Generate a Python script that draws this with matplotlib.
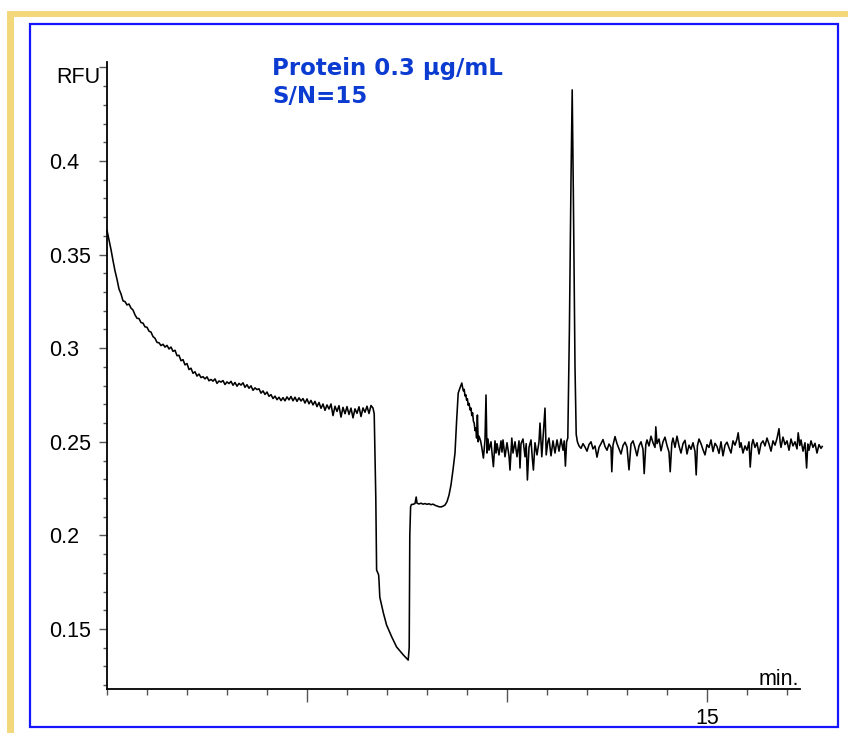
import numpy as np
import matplotlib
matplotlib.use("Agg")
import matplotlib.pyplot as plt
from matplotlib.patches import Rectangle
from matplotlib.ticker import FixedLocator, MultipleLocator

# ---------------- data ----------------
decay_t = [0.00, 0.05, 0.10, 0.15, 0.20, 0.25, 0.30, 0.35, 0.40, 0.45, 0.50, 0.55, 0.60, 0.65,
           0.70, 0.75, 0.80, 0.85, 0.90, 0.95, 1.00, 1.05, 1.10, 1.15, 1.20, 1.25, 1.30, 1.35,
           1.40, 1.45, 1.50, 1.55, 1.60, 1.65, 1.70, 1.75, 1.80, 1.85, 1.90, 1.95, 2.00, 2.05,
           2.10, 2.15, 2.20, 2.25, 2.30, 2.35, 2.40, 2.45, 2.50, 2.55, 2.60, 2.65, 2.70, 2.75,
           2.80, 2.85, 2.90, 2.95, 3.00, 3.05, 3.10, 3.15, 3.20, 3.25, 3.30, 3.35, 3.40, 3.45,
           3.50, 3.55, 3.60, 3.65, 3.70, 3.75, 3.80, 3.85, 3.90, 3.95, 4.00, 4.05, 4.10, 4.15,
           4.20, 4.25, 4.30, 4.35, 4.40, 4.45, 4.50, 4.55, 4.60, 4.65, 4.70, 4.75, 4.80, 4.85,
           4.90, 4.95, 5.00, 5.05, 5.10, 5.15, 5.20, 5.25, 5.30, 5.35, 5.40, 5.45, 5.50, 5.55,
           5.60, 5.65, 5.70, 5.75, 5.80, 5.85, 5.90, 5.95, 6.00, 6.05, 6.10, 6.15, 6.20, 6.25,
           6.30, 6.35, 6.40, 6.45, 6.50, 6.55, 6.60, 6.65]
decay_v = [0.3630, 0.3578, 0.3527, 0.3468, 0.3413, 0.3368, 0.3316, 0.3290, 0.3253, 0.3249,
           0.3231, 0.3236, 0.3214, 0.3204, 0.3178, 0.3160, 0.3158, 0.3137, 0.3134, 0.3114,
           0.3112, 0.3091, 0.3086, 0.3062, 0.3053, 0.3031, 0.3029, 0.3014, 0.3021, 0.3006,
           0.3015, 0.2996, 0.3006, 0.2983, 0.2989, 0.2960, 0.2962, 0.2933, 0.2939, 0.2911,
           0.2918, 0.2886, 0.2893, 0.2866, 0.2874, 0.2851, 0.2862, 0.2843, 0.2848, 0.2836,
           0.2847, 0.2826, 0.2833, 0.2824, 0.2836, 0.2812, 0.2825, 0.2819, 0.2827, 0.2806,
           0.2820, 0.2811, 0.2823, 0.2802, 0.2817, 0.2797, 0.2812, 0.2803, 0.2815, 0.2791,
           0.2805, 0.2786, 0.2799, 0.2775, 0.2788, 0.2779, 0.2783, 0.2760, 0.2772, 0.2753,
           0.2766, 0.2743, 0.2752, 0.2731, 0.2744, 0.2725, 0.2738, 0.2720, 0.2736, 0.2719,
           0.2740, 0.2724, 0.2742, 0.2719, 0.2738, 0.2716, 0.2735, 0.2718, 0.2731, 0.2707,
           0.2729, 0.2703, 0.2721, 0.2697, 0.2716, 0.2688, 0.2710, 0.2679, 0.2702, 0.2668,
           0.2697, 0.2675, 0.2702, 0.2640, 0.2690, 0.2662, 0.2693, 0.2632, 0.2684, 0.2650,
           0.2688, 0.2646, 0.2680, 0.2628, 0.2676, 0.2652, 0.2687, 0.2635, 0.2681, 0.2658,
           0.2690, 0.2651, 0.2694, 0.2680]

dip_t = [6.68, 6.72, 6.74, 6.79, 6.80, 6.82, 6.91, 6.99, 7.12, 7.24, 7.41, 7.53, 7.555, 7.57,
         7.59, 7.61, 7.65, 7.70, 7.73, 7.75, 7.80, 7.85, 7.90, 7.95, 8.00, 8.05, 8.10, 8.15,
         8.20, 8.25, 8.30, 8.35, 8.40, 8.45, 8.50, 8.55, 8.60, 8.65, 8.70, 8.74, 8.78, 8.82,
         8.87, 8.89, 8.91, 8.93, 8.95, 8.97, 8.99, 9.01, 9.03, 9.05, 9.08, 9.10, 9.12, 9.14,
         9.16, 9.18, 9.20, 9.22, 9.24, 9.26, 9.28, 9.30]
dip_v = [0.2650, 0.2200, 0.1815, 0.1790, 0.1760, 0.1670, 0.1585, 0.1521, 0.1457, 0.1404,
         0.1361, 0.1334, 0.1400, 0.2000, 0.2153, 0.2165, 0.2166, 0.2170, 0.2205, 0.2172,
         0.2168, 0.2172, 0.2167, 0.2170, 0.2166, 0.2169, 0.2164, 0.2167, 0.2161, 0.2157,
         0.2153, 0.2152, 0.2156, 0.2162, 0.2180, 0.2215, 0.2270, 0.2350, 0.2440, 0.2610,
         0.2760, 0.2785, 0.2814, 0.2790, 0.2772, 0.2780, 0.2745, 0.2752, 0.2722, 0.2730,
         0.2695, 0.2705, 0.2670, 0.2680, 0.2640, 0.2655, 0.2610, 0.2600, 0.2560, 0.2575,
         0.2520, 0.2643, 0.2500, 0.2530]

mid_t = [9.34, 9.37, 9.41, 9.45, 9.475, 9.50, 9.525, 9.55, 9.60, 9.63, 9.66, 9.70, 9.725,
         9.75, 9.80, 9.85, 9.875, 9.90, 9.95, 10.00, 10.05, 10.075, 10.12, 10.15, 10.20,
         10.25, 10.30, 10.325, 10.35, 10.40, 10.45, 10.48, 10.51, 10.55, 10.60, 10.63, 10.66,
         10.70, 10.75, 10.80, 10.825, 10.87, 10.90, 10.95, 10.98, 11.02, 11.05, 11.10, 11.15,
         11.20, 11.25, 11.30, 11.35, 11.40, 11.43, 11.46, 11.49]
mid_v = [0.2505, 0.2470, 0.2413, 0.2510, 0.2750, 0.2440, 0.2515, 0.2455, 0.2500, 0.2430,
         0.2367, 0.2505, 0.2440, 0.2490, 0.2430, 0.2505, 0.2445, 0.2510, 0.2420, 0.2495,
         0.2425, 0.2349, 0.2520, 0.2440, 0.2500, 0.2420, 0.2505, 0.2360, 0.2490, 0.2515,
         0.2420, 0.2490, 0.2296, 0.2470, 0.2510, 0.2420, 0.2349, 0.2495, 0.2430, 0.2500,
         0.2600, 0.2420, 0.2515, 0.2680, 0.2430, 0.2500, 0.2520, 0.2425, 0.2505, 0.2440,
         0.2510, 0.2450, 0.2515, 0.2455, 0.2505, 0.2370, 0.2500]

peak_t = [11.52, 11.56, 11.60, 11.63, 11.66, 11.70, 11.73, 11.76]
peak_v = [0.2520, 0.3100, 0.3900, 0.4380, 0.3800, 0.2900, 0.2540, 0.2500]

tail_t = [11.80, 11.85, 11.90, 11.95, 12.00, 12.05, 12.10, 12.15, 12.20, 12.25, 12.30, 12.35,
          12.40, 12.45, 12.50, 12.55, 12.60, 12.62, 12.65, 12.70, 12.75, 12.80, 12.85, 12.90,
          12.95, 13.00, 13.05, 13.10, 13.15, 13.20, 13.25, 13.30, 13.35, 13.40, 13.43, 13.47,
          13.50, 13.55, 13.60, 13.65, 13.70, 13.72, 13.75, 13.80, 13.85, 13.90, 13.95, 14.00,
          14.05, 14.08, 14.12, 14.15, 14.20, 14.25, 14.30, 14.35, 14.40, 14.45, 14.50, 14.55,
          14.60, 14.65, 14.70, 14.73, 14.76, 14.80, 14.85, 14.90, 14.95, 15.00, 15.05, 15.10,
          15.15, 15.20, 15.25, 15.30, 15.35, 15.40, 15.45, 15.50, 15.55, 15.60, 15.65, 15.70,
          15.75, 15.78, 15.82, 15.85, 15.90, 15.95, 16.00, 16.05, 16.08, 16.12, 16.15, 16.20,
          16.25, 16.30, 16.35, 16.40, 16.45, 16.50, 16.55, 16.60, 16.65, 16.70, 16.75, 16.80,
          16.83, 16.85, 16.90, 16.95, 17.00, 17.05, 17.10, 17.15, 17.20, 17.25, 17.28, 17.32,
          17.35, 17.40, 17.45, 17.49, 17.52, 17.55, 17.60, 17.65, 17.70, 17.75, 17.80, 17.85,
          17.88]
tail_v = [0.2478, 0.2465, 0.2490, 0.2472, 0.2450, 0.2485, 0.2500, 0.2462, 0.2478, 0.2418, 0.2470, 0.2490,
          0.2512, 0.2475, 0.2455, 0.2488, 0.2470, 0.2340, 0.2482, 0.2528, 0.2490, 0.2462, 0.2435, 0.2480,
          0.2498, 0.2472, 0.2350, 0.2488, 0.2505, 0.2468, 0.2425, 0.2478, 0.2500, 0.2460, 0.2330, 0.2485,
          0.2510, 0.2478, 0.2530, 0.2495, 0.2470, 0.2580, 0.2490, 0.2515, 0.2452, 0.2500, 0.2525, 0.2480,
          0.2445, 0.2340, 0.2492, 0.2520, 0.2470, 0.2530, 0.2478, 0.2440, 0.2490, 0.2508, 0.2435, 0.2482,
          0.2460, 0.2495, 0.2448, 0.2323, 0.2478, 0.2515, 0.2490, 0.2458, 0.2430, 0.2485, 0.2470, 0.2510,
          0.2448, 0.2492, 0.2475, 0.2438, 0.2500, 0.2425, 0.2482, 0.2498, 0.2468, 0.2440, 0.2505, 0.2482,
          0.2515, 0.2548, 0.2470, 0.2495, 0.2440, 0.2478, 0.2455, 0.2500, 0.2365, 0.2485, 0.2512, 0.2470,
          0.2495, 0.2435, 0.2490, 0.2505, 0.2478, 0.2520, 0.2488, 0.2450, 0.2505, 0.2482, 0.2518, 0.2570,
          0.2495, 0.2470, 0.2525, 0.2485, 0.2505, 0.2455, 0.2515, 0.2478, 0.2500, 0.2462, 0.2548, 0.2480,
          0.2510, 0.2450, 0.2495, 0.2360, 0.2488, 0.2455, 0.2505, 0.2470, 0.2492, 0.2440, 0.2485, 0.2465,
          0.2475]

y_major = [0.15, 0.20, 0.25, 0.30, 0.35, 0.40, 0.45]
y_labels = ["0.15", "0.2", "0.25", "0.3", "0.35", "0.4", ""]
x_major = [5, 10, 15]
x_labels = ["", "", "15"]
title_lines = ["Protein 0.3 µg/mL", "S/N=15"]

# ---------------- figure ----------------
W, H = 848, 733
fig = plt.figure(figsize=(W / 100, H / 100), dpi=100)

def fx(px):
    return px / W

def fy(py):
    return 1 - py / H

# decorative frame
fig.patches.append(Rectangle((fx(7), fy(17)), 1 - fx(7), 6 / H, transform=fig.transFigure,
                             facecolor="#f2d87a", edgecolor="none", zorder=0))
fig.patches.append(Rectangle((fx(7), 0), 6.5 / W, fy(11), transform=fig.transFigure,
                             facecolor="#f2d87a", edgecolor="none", zorder=0))
fig.patches.append(Rectangle((fx(30), fy(727)), (838 - 30) / W, (727 - 24) / H,
                             transform=fig.transFigure, facecolor="none",
                             edgecolor="#1515ff", linewidth=1.6, zorder=1))

ax = fig.add_axes([fx(107), fy(689), (800 - 107) / W, (689 - 62) / H])
ax.patch.set_alpha(0)

t = np.concatenate([decay_t, dip_t, mid_t, peak_t, tail_t])
v = np.concatenate([decay_v, dip_v, mid_v, peak_v, tail_v])
ax.plot(t, v, color="black", linewidth=1.15, clip_on=False, zorder=3)

ax.set_xlim(0, 17.325)
ax.set_ylim(0.11795, 0.45288)

for s in ("top", "right"):
    ax.spines[s].set_visible(False)
for s in ("left", "bottom"):
    ax.spines[s].set_linewidth(1.3)
    ax.spines[s].set_color("black")

ax.yaxis.set_major_locator(FixedLocator(y_major))
ax.set_yticklabels(y_labels)
ax.yaxis.set_minor_locator(MultipleLocator(0.01))
ax.xaxis.set_major_locator(FixedLocator(x_major))
ax.set_xticklabels(x_labels)
ax.xaxis.set_minor_locator(MultipleLocator(1))

tick_font = "Liberation Sans"
fs = 15.5
ax.tick_params(axis="y", which="major", length=5.8, width=1.0, color="#555555",
               pad=36, labelsize=fs)
ax.tick_params(axis="y", which="minor", length=2.9, width=1.0, color="#555555")
ax.tick_params(axis="x", which="major", length=9, width=1.0, color="#555555",
               pad=5, labelsize=fs)
ax.tick_params(axis="x", which="minor", length=4.5, width=1.0, color="#555555")
for lab in ax.get_yticklabels():
    lab.set_horizontalalignment("left")
    lab.set_fontfamily(tick_font)
for lab in ax.get_xticklabels():
    lab.set_fontfamily(tick_font)

fig.text(fx(100), fy(77.5), "RFU", ha="right", va="center", fontsize=fs,
         fontfamily=tick_font, color="black")
fig.text(fx(799), fy(685), "min.", ha="right", va="baseline", fontsize=fs,
         fontfamily=tick_font, color="black")

fig.text(fx(272), fy(75), title_lines[0], ha="left", va="baseline", fontsize=16.5,
         fontweight="bold", color="#0b3bd0", fontfamily="DejaVu Sans")
fig.text(fx(272), fy(103.3), title_lines[1], ha="left", va="baseline", fontsize=16.5,
         fontweight="bold", color="#0b3bd0", fontfamily="DejaVu Sans")

fig.savefig("out.png", dpi=100)
